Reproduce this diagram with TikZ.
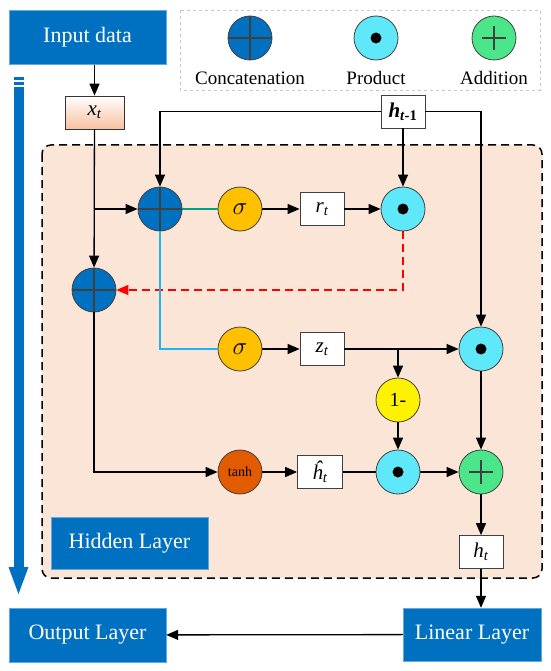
\documentclass[tikz,border=0pt]{standalone}
\usepackage{fontspec}
\setmainfont{Liberation Serif}
\usetikzlibrary{arrows.meta,shadings}
\definecolor{myblue}{HTML}{0070C0}
\definecolor{peach}{HTML}{FBE5D6}
\definecolor{sig}{HTML}{FFC000}
\definecolor{prodc}{HTML}{5EE8FA}
\definecolor{addc}{HTML}{4CE68A}
\definecolor{tanhc}{HTML}{E35B00}
\definecolor{tealc}{HTML}{00A080}
\definecolor{cyanl}{HTML}{1EB4F0}
\definecolor{xtc}{HTML}{F8C0A0}
\tikzset{
  arr/.style={line width=1.3pt,-{Triangle[length=12pt,width=10pt]}},
  ln/.style={line width=1.3pt},
  bluebox/.style={draw=myblue!60!white,fill=myblue,text=white,minimum width=157pt,minimum height=54pt,inner sep=0pt,font=\fontsize{22}{26}\selectfont},
  circ/.style={circle,draw=black!75,line width=0.8pt,minimum size=44pt,inner sep=0pt},
  concat/.style={circ,fill=myblue,path picture={
      \draw[line width=1.8pt] (path picture bounding box.north) -- (path picture bounding box.south);
      \draw[line width=1.8pt] (path picture bounding box.west) -- (path picture bounding box.east);}},
  prod/.style={circ,fill=prodc,path picture={\fill[black] (path picture bounding box.center) circle (5.5pt);}},
  addn/.style={circ,fill=addc,path picture={
      \draw[line width=2.8pt] ([yshift=-12pt]path picture bounding box.center) -- ([yshift=12pt]path picture bounding box.center);
      \draw[line width=2.8pt] ([xshift=-12pt]path picture bounding box.center) -- ([xshift=12pt]path picture bounding box.center);}},
  sigc/.style={circ,fill=sig,font=\fontsize{26}{28}\selectfont},
  varbox/.style={draw=black!75,line width=0.8pt,fill=white,minimum width=44pt,minimum height=33pt,inner sep=0pt,font=\fontsize{21}{24}\selectfont},
  legtext/.style={font=\fontsize{19}{22}\selectfont}
}
\begin{document}
\begin{tikzpicture}[x=1pt,y=-1pt]
\useasboundingbox (0,0) rectangle (550,671);
\fill[white] (0,0) rectangle (550,671);
% hidden layer region
\draw[fill=peach,line width=1.5pt,dash pattern=on 8pt off 5pt,rounded corners=9pt] (42,145) rectangle (542,578);
% legend
\draw[gray!45,line width=0.9pt,dashed] (180,10) rectangle (540,90);
\node[concat] (lc) at (250,38) {};
\node[prod] (lp) at (376,38) {};
\node[addn] (la) at (494,38) {};
\node[legtext] (lct) at (250,78) {Concatenation};
\node[legtext] (lpt) at (376,78) {Product};
\node[legtext] (lat) at (494,78) {Addition};
% left blue arrow
\fill[myblue] (14,77.5) rectangle (24,80.5);
\fill[myblue] (14,82) rectangle (24,85);
\fill[myblue] (14,87.5) rectangle (24,567);
\fill[myblue] (8.5,567) -- (28.5,567) -- (18.5,594) -- cycle;
% nodes
\node[bluebox] (in) at (87.5,37.5) {Input data};
\node[varbox,minimum width=59pt,draw=black!80,top color=white,bottom color=xtc] (xt) at (94.5,112.5) {$\mathit{x}_{\mathit{t}}$};
\node[varbox] (hp) at (403,111.5) {\textbf{\textit{h}\textsubscript{\textit{t}-1}}};
\node[concat] (c1) at (160,209) {};
\node[sigc] (s1) at (240,209) {$\sigma$};
\node[varbox] (rt) at (322,209) {$\mathit{r}_{\mathit{t}}$};
\node[prod] (p1) at (403,209) {};
\node[concat] (c2) at (94,290) {};
\node[sigc] (s2) at (240,349) {$\sigma$};
\node[varbox] (zt) at (322,349) {$\mathit{z}_{\mathit{t}}$};
\node[prod] (p2) at (481,349) {};
\node[circ,fill=yellow,font=\fontsize{20}{22}\selectfont] (om) at (398,400) {1-};
\node[circ,fill=tanhc,font=\fontsize{14}{16}\selectfont] (th) at (240,472) {tanh};
\node[varbox,minimum width=45pt] (hh) at (320,472) {\textit{ĥ}\textsubscript{\textit{t}}};
\node[prod] (p3) at (398,472) {};
\node[addn] (ad) at (481,472) {};
\node[varbox] (ht) at (481,552) {$\mathit{h}_{\mathit{t}}$};
\node[bluebox,minimum width=138pt,minimum height=53pt] (lin) at (472,634.5) {Linear Layer};
\node[bluebox] (out) at (87.5,635) {Output Layer};
\node[bluebox,minimum height=52pt] (hid) at (129.5,543) {Hidden Layer};
% connectors
\draw[arr] (in.south -| xt) -- (xt);
\draw[arr] (xt) -- (c2);
\draw[arr] (xt.south |- c1) -- (c1);
\draw[arr] (hp.west) -| (c1.north);
\draw[arr] (hp.east) -| (p2.north);
\draw[arr] (hp) -- (p1);
\draw[ln,tealc] (c1) -- (s1);
\draw[arr] (s1) -- (rt);
\draw[arr] (rt) -- (p1);
\draw[arr,red,dash pattern=on 8pt off 5pt] (p1.south) |- (c2.east);
\draw[ln,cyanl] (c1.south) |- (s2.west);
\draw[arr] (s2) -- (zt);
\draw[arr] (zt) -- (p2);
\draw[arr] (zt.east -| om) -- (om);
\draw[arr] (p2) -- (ad);
\draw[arr] (om) -- (p3);
\draw[arr] (c2.south) |- (th.west);
\draw[arr] (th) -- (hh);
\draw[ln] (hh) -- (p3);
\draw[arr] (p3) -- (ad);
\draw[arr] (ad) -- (ht);
\draw[arr] (ht) -- (ht |- lin.north);
\draw[arr] (lin) -- (out);
\end{tikzpicture}
\end{document}
